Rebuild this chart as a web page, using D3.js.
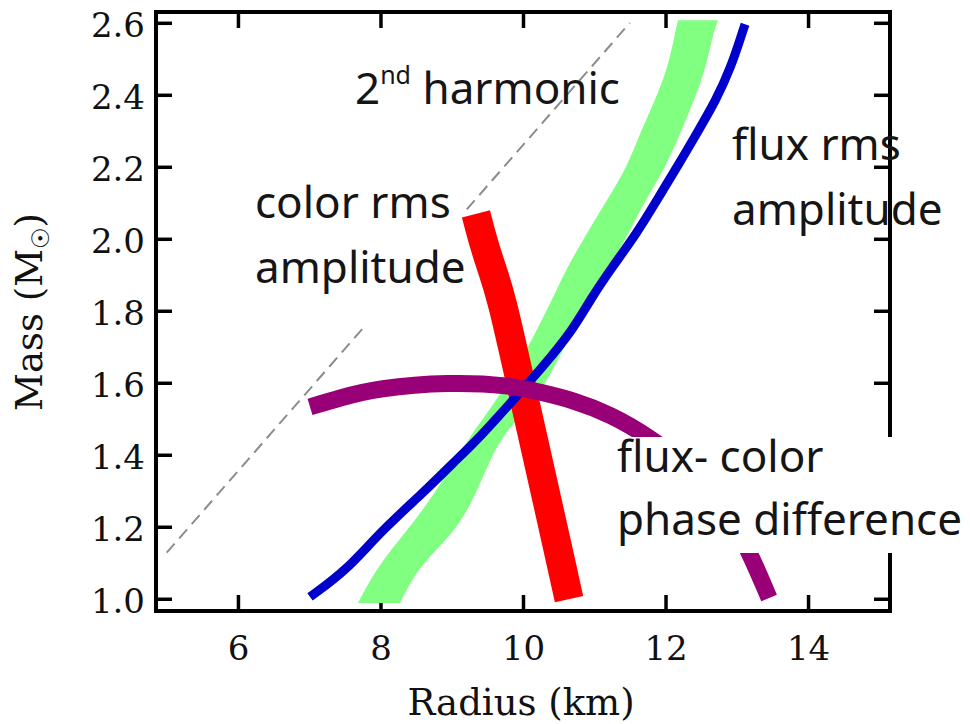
<!DOCTYPE html>
<html><head><meta charset="utf-8">
<script src="https://cdn.jsdelivr.net/npm/d3@7"></script>
<style>html,body{margin:0;padding:0;background:#fff;} svg{display:block}</style>
</head><body>
<svg id="chart" width="970" height="724"></svg>
<script>
// ---------- data ----------
const xTicks = [6, 8, 10, 12, 14];
const yTicks = [1.0, 1.2, 1.4, 1.6, 1.8, 2.0, 2.2, 2.4, 2.6];
const xTitle = "Radius (km)";
const yTitle = "Mass (M";
const ySymbol = "\u2609";

// 2nd harmonic limit (dashed)
const harmonicR = [5.0, 11.5];
const harmonicM = [1.128, 2.60];

// green band (mass rows with left/right radius edges)
const greenMass  = [0.988, 1.088, 1.182, 1.274, 1.366, 1.460, 1.552, 1.691, 1.830, 1.921, 2.016, 2.108, 2.199, 2.294, 2.385, 2.477, 2.571, 2.607];
const greenLeft  = [7.684, 7.951, 8.344, 8.695, 8.989, 9.284, 9.635, 10.056, 10.407, 10.618, 10.898, 11.179, 11.460, 11.642, 11.853, 12.035, 12.133, 12.175];
const greenRight = [8.274, 8.526, 9.032, 9.298, 9.495, 9.719, 10.196, 10.561, 10.920, 11.220, 11.480, 11.720, 12.000, 12.210, 12.400, 12.570, 12.667, 12.737];

// red band (color rms amplitude): centre line
const redR = [9.340, 9.453, 9.579, 9.705, 9.916, 10.126, 10.337, 10.547, 10.646];
const redM = [2.069, 1.983, 1.908, 1.830, 1.644, 1.460, 1.274, 1.088, 0.999];

// blue line (flux rms amplitude)
const blueR = [7.011, 7.530, 7.993, 8.596, 9.018, 9.396, 9.860, 10.239, 10.702, 10.940, 11.249, 11.600, 11.881, 12.161, 12.442, 12.709, 12.919, 13.074, 13.116];
const blueM = [1.005, 1.080, 1.185, 1.294, 1.377, 1.449, 1.552, 1.635, 1.747, 1.830, 1.921, 2.016, 2.108, 2.199, 2.294, 2.385, 2.477, 2.571, 2.596];

// purple line (flux-color phase difference)
const purpleR = [7.011, 7.432, 7.951, 8.975, 9.818, 10.239, 10.702, 11.221, 11.782, 12.344, 12.835, 13.186, 13.453];
const purpleM = [1.533, 1.558, 1.585, 1.602, 1.593, 1.574, 1.552, 1.513, 1.449, 1.363, 1.260, 1.127, 1.002];

// ---------- layout ----------
const svg = d3.select("#chart");
const X0 = 156, X1 = 890, Y0 = 12, Y1 = 611;
const x = d3.scaleLinear().domain([4.85, 15.15]).range([X0, X1]);
const y = d3.scaleLinear().domain([0.966, 2.63]).range([Y1, Y0]);
const serif = "'DejaVu Serif', serif";
const sans = "'Noto Sans', sans-serif";
const fmt = d3.format(".1f");

// axes
function styleAxis(g) {
  g.select(".domain").remove();
  g.selectAll(".tick line").attr("stroke", "#000").attr("stroke-width", 3.5);
}
svg.append("g").attr("transform", `translate(0,${Y1})`)
  .call(d3.axisBottom(x).tickValues(xTicks).tickSize(-16).tickFormat(d3.format("d")))
  .call(styleAxis)
  .call(g => g.selectAll(".tick text").attr("y", 49).attr("dy", null)
    .attr("font-family", serif).attr("font-size", 34).attr("fill", "#111"));
svg.append("g").attr("transform", `translate(0,${Y0})`)
  .call(d3.axisTop(x).tickValues(xTicks).tickSize(-16).tickFormat(""))
  .call(styleAxis);
svg.append("g").attr("transform", `translate(${X0},0)`)
  .call(d3.axisLeft(y).tickValues(yTicks).tickSize(-16).tickFormat(fmt))
  .call(styleAxis)
  .call(g => g.selectAll(".tick text").attr("x", -11).attr("dy", null).attr("y", 14)
    .attr("font-family", serif).attr("font-size", 34).attr("fill", "#111"));
svg.append("g").attr("transform", `translate(${X1},0)`)
  .call(d3.axisRight(y).tickValues(yTicks).tickSize(-16).tickFormat(""))
  .call(styleAxis);
svg.append("rect").attr("x", X0).attr("y", Y0).attr("width", X1 - X0).attr("height", Y1 - Y0)
  .attr("fill", "none").attr("stroke", "#000").attr("stroke-width", 4);

// axis titles
svg.append("text").attr("x", 521).attr("y", 715).attr("text-anchor", "middle")
  .attr("font-family", serif).attr("font-size", 37).attr("fill", "#111").text(xTitle);
const yt = svg.append("text").attr("transform", "translate(42,312) rotate(-90)")
  .attr("text-anchor", "middle").attr("font-family", serif).attr("font-size", 37).attr("fill", "#111");
yt.append("tspan").text(yTitle);
yt.append("tspan").attr("font-size", 24).attr("dy", 7).attr("font-family", "'DejaVu Sans', sans-serif").text(ySymbol);
yt.append("tspan").attr("dy", -7).text(")");

// dashed 2nd-harmonic line
svg.append("path")
  .attr("d", d3.line().x(i => x(harmonicR[i])).y(i => y(harmonicM[i]))(d3.range(harmonicR.length)))
  .attr("fill", "none").attr("stroke", "#8c8c8c").attr("stroke-width", 2).attr("stroke-dasharray", "12,7");

// white label box behind "color rms amplitude"
svg.append("rect").attr("x", 248).attr("y", 178).attr("width", 217).attr("height", 148).attr("fill", "#fff");

// green band
svg.append("path")
  .attr("d", d3.area().curve(d3.curveBasis)
    .y(i => y(greenMass[i])).x0(i => x(greenLeft[i])).x1(i => x(greenRight[i]))(d3.range(greenMass.length)))
  .attr("fill", "#80ff80");

// red band
svg.append("path")
  .attr("d", d3.line().curve(d3.curveBasis).x(i => x(redR[i])).y(i => y(redM[i]))(d3.range(redR.length)))
  .attr("fill", "none").attr("stroke", "#ff0000").attr("stroke-width", 29);

// blue line
svg.append("path")
  .attr("d", d3.line().curve(d3.curveBasis).x(i => x(blueR[i])).y(i => y(blueM[i]))(d3.range(blueR.length)))
  .attr("fill", "none").attr("stroke", "#0000cc").attr("stroke-width", 9);

// purple line
svg.append("path")
  .attr("d", d3.line().curve(d3.curveBasis).x(i => x(purpleR[i])).y(i => y(purpleM[i]))(d3.range(purpleR.length)))
  .attr("fill", "none").attr("stroke", "#990077").attr("stroke-width", 17);

// white label box behind phase-difference label
svg.append("rect").attr("x", 606).attr("y", 437).attr("width", 364).attr("height", 116).attr("fill", "#fff");

// annotations
function label(xp, yp, txt) {
  return svg.append("text").attr("x", xp).attr("y", yp).attr("font-family", sans)
    .attr("font-size", 44).attr("fill", "#151515").text(txt);
}
const h = svg.append("text").attr("x", 355).attr("y", 104).attr("font-family", sans)
  .attr("font-size", 44).attr("fill", "#151515");
h.append("tspan").text("2");
h.append("tspan").attr("font-size", 25).attr("dy", -20).text("nd");
h.append("tspan").attr("dy", 20).text(" harmonic");
label(255, 218, "color rms");
label(255, 283, "amplitude");
label(732, 160, "flux rms");
label(732, 225, "amplitude");
label(617, 472, "flux- color");
label(617, 535, "phase difference");
</script>
</body></html>
